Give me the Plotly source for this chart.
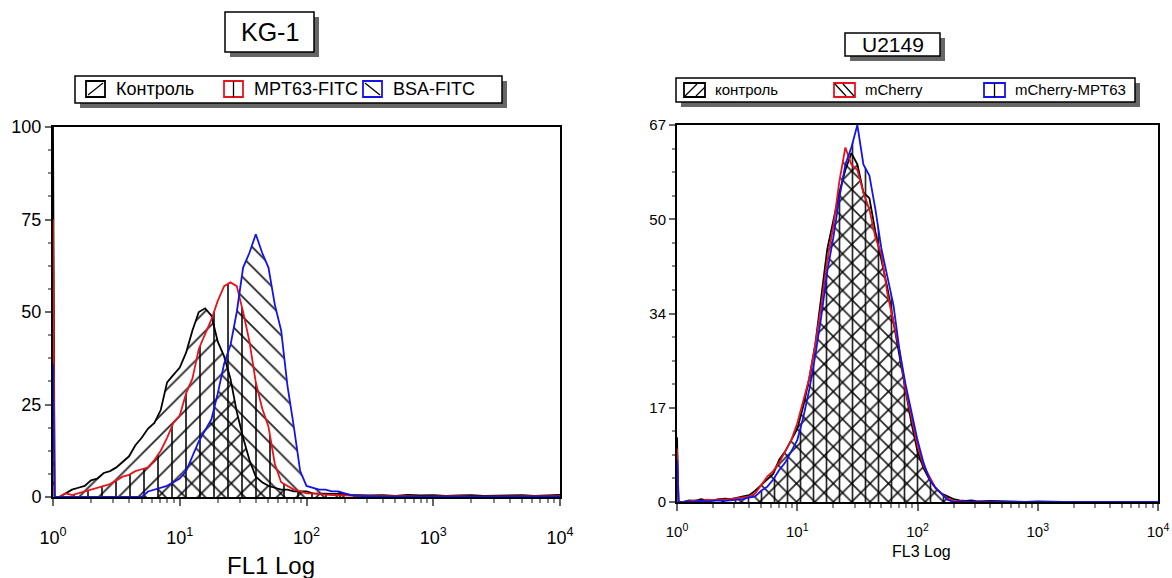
import plotly.graph_objects as go

W, H = 1172, 578

# Shared channel grid (FL intensity, log spaced)
FL_CHANNELS = [
    1.0, 1.03,
    1.122, 1.259, 1.413, 1.585, 1.778, 1.995, 2.239, 2.512, 2.818, 3.162,
    3.548, 3.981, 4.467, 5.012, 5.623, 6.310, 7.079, 7.943, 8.913, 10.0,
    11.22, 12.59, 14.13, 15.85, 17.78, 19.95, 22.39, 25.12, 28.18, 31.62,
    35.48, 39.81, 44.67, 50.12, 56.23, 63.10, 70.79, 79.43, 89.13, 100.0,
    112.2, 125.9, 141.3, 158.5, 177.8, 199.5, 223.9, 251.2, 281.8, 316.2,
    398.1, 501.2, 631.0, 794.3, 1000, 1259, 1585, 1995, 2512, 3162, 3981,
    5012, 6310, 7943, 10000,
]

# ---- KG-1 (FL1) ----
KG1_CONTROL = [
    100, 0,
    0, 1, 2, 2.5, 3, 4.5, 5, 6.5, 7, 8,
    9.5, 11, 14, 16, 18.5, 20, 23.5, 31, 33, 35,
    39, 45, 50, 51, 49, 42, 38, 32, 23, 16,
    10, 5.5, 4, 3, 2.5, 2, 2, 1.5, 1.5, 1.5,
    1, 1, 1, 1, 0.8, 0.8, 0.6, 0.5, 0.5, 0.4,
    0.5, 0.3, 0.6, 0.4, 0.5, 0.3, 0.4, 0.5, 0.3, 0.4, 0.3,
    0.5, 0.3, 0.4, 0.6,
]
KG1_MPT63 = [
    75, 0,
    0, 1, 0.5, 1, 1.5, 2, 2.5, 3, 3.5, 4.5,
    5.5, 6, 7, 7.5, 8, 10, 12.5, 16, 20, 22,
    28, 32, 40, 44, 48, 53, 57, 58, 57, 50,
    42, 31, 24, 19, 9, 4, 3, 2, 1.5, 1,
    1, 0.8, 0.6, 0.5, 0.5, 0.4, 0.3, 0.3, 0.2, 0.2,
    0.2, 0.3, 0.2, 0.1, 0.2, 0.1, 0.2, 0.1, 0.1, 0.2, 0.1,
    0.1, 0.1, 0.1, 0.2,
]
KG1_BSA = [
    36, 0,
    0, 0, 0, 0, 0, 0, 0, 0, 0, 0,
    0, 0, 0, 0, 1.5, 2, 2.5, 3, 4, 5,
    7, 11, 15, 18, 21, 28, 36, 41, 50, 62,
    66, 71, 66, 62, 52, 45, 30, 19, 7, 3,
    2.5, 2, 2, 1.5, 1.5, 1, 0.5, 0.3, 0.2, 0.2,
    0.1, 0.1, 0.1, 0.1, 0.1, 0.1, 0.1, 0.1, 0.1, 0.1, 0.1,
    0.1, 0.1, 0.1, 0.1,
]

# ---- U2149 (FL3) ----
U2149_CONTROL = [
    11.5, 0,
    0, 0.3, 0.2, 0.5, 0.3, 0.3, 0.5, 0.6, 0.5, 0.8,
    1, 1.2, 2, 3, 4, 5, 7.5, 9, 11, 13,
    17, 22, 28, 36, 45, 50, 55, 59, 62, 60,
    55, 54, 48, 43, 38, 32, 26, 20, 14, 9,
    6, 4, 2.5, 1.5, 1, 0.5, 0.3, 0.2, 0.3, 0.1,
    0.2, 0.1, 0.1, 0, 0.1, 0, 0, 0, 0, 0, 0,
    0, 0, 0, 0,
]
U2149_MCHERRY = [
    9.5, 0,
    0, 0.2, 0.3, 0.2, 0.4, 0.3, 0.5, 0.4, 0.6, 0.7,
    0.8, 1, 1.5, 3, 4.5, 5.5, 7, 9, 11, 14,
    18, 22, 28, 35, 43, 49, 57, 63, 60, 59,
    55, 52, 47, 44, 37, 32, 27, 20, 15, 10,
    6.5, 4.5, 2.5, 1.5, 0.6, 0.2, 0.1, 0.1, 0, 0.1,
    0, 0, 0, 0, 0, 0, 0, 0, 0, 0, 0,
    0, 0, 0, 0,
]
U2149_MCHERRY_MPT63 = [
    7.5, 0,
    0, 0, 0.1, 0.2, 0.1, 0.2, 0.3, 0.2, 0.3, 0.5,
    0.5, 0.8, 1, 2, 2.7, 4, 5.7, 7, 9, 11,
    15, 20, 26, 33, 41, 47, 54, 60, 63, 67,
    60, 58, 52, 45, 40, 35, 27, 21, 16, 11,
    7, 4, 2.5, 1.5, 0.4, 0, 0, 0, 0, 0,
    0, 0, 0, 0, 0, 0, 0, 0, 0, 0, 0,
    0, 0, 0, 0,
]

LOG_TICKS = [1, 10, 100, 1000, 10000]
LOG_TICKTEXT = ["10<sup>0</sup>", "10<sup>1</sup>", "10<sup>2</sup>",
                "10<sup>3</sup>", "10<sup>4</sup>"]
LOG_MINOR = [m * d for d in (1, 10, 100, 1000) for m in range(2, 10)]

KG1_YTICKS = [0, 25, 50, 75, 100]
U2149_YTICKS = [0, 16.75, 33.5, 50.25, 67]
U2149_YTICKTEXT = ["0", "17", "34", "50", "67"]

KG1_SERIES = [("Контроль", KG1_CONTROL, "black", "/"),
              ("MPT63-FITC", KG1_MPT63, "#e8141c", "|"),
              ("BSA-FITC", KG1_BSA, "#1414e8", "\\")]
U2149_SERIES = [("контроль", U2149_CONTROL, "black", "/"),
                ("mCherry", U2149_MCHERRY, "#e8141c", "\\"),
                ("mCherry-MPT63", U2149_MCHERRY_MPT63, "#1414e8", "|")]

FONT = "Arial, Liberation Sans, sans-serif"


def px(x):
    return x / W


def py(y):
    return 1 - y / H


fig = go.Figure()


def add_series(series, xa, ya, size):
    for name, vals, col, shape in series:
        fig.add_trace(go.Scatter(
            x=FL_CHANNELS, y=vals, xaxis=xa, yaxis=ya, mode="none",
            fill="tozeroy", fillcolor="rgba(0,0,0,0)",
            fillpattern=dict(shape=shape, fgcolor="rgba(0,0,0,0.85)",
                             bgcolor="rgba(0,0,0,0)", size=size,
                             solidity=0.13, fillmode="replace"),
            showlegend=False, hoverinfo="skip"))
    for name, vals, col, shape in series:
        fig.add_trace(go.Scatter(
            x=FL_CHANNELS, y=vals, xaxis=xa, yaxis=ya, mode="lines",
            line=dict(color=col, width=1.8), name=name, showlegend=False))


add_series(KG1_SERIES, "x", "y", 14)
add_series(U2149_SERIES, "x2", "y2", 13)

axis_common = dict(showline=True, linecolor="black", linewidth=2, mirror=True,
                   showgrid=False, zeroline=False, ticks="outside",
                   tickcolor="#666", tickwidth=1.5, automargin=False)

fig.update_layout(
    width=W, height=H, margin=dict(l=0, r=0, t=0, b=0, autoexpand=False),
    paper_bgcolor="white", plot_bgcolor="white",
    font=dict(family=FONT, color="black"),
    xaxis=dict(type="log", range=[0, 4], domain=[px(53), px(560)], anchor="y",
               tickvals=LOG_TICKS, ticktext=LOG_TICKTEXT, ticklen=7,
               tickfont=dict(size=18), ticklabelstandoff=16,
               minor=dict(tickvals=LOG_MINOR, ticks="outside", ticklen=4,
                          tickcolor="#888"),
               **axis_common),
    yaxis=dict(range=[0, 100], domain=[py(497), py(127)], anchor="x",
               tickvals=KG1_YTICKS, ticklen=6, tickfont=dict(size=18),
               minor=dict(dtick=6.25, ticks="outside", ticklen=3,
                          tickcolor="#888"),
               **axis_common),
    xaxis2=dict(type="log", range=[0, 4], domain=[px(677), px(1158)],
                anchor="y2", tickvals=LOG_TICKS, ticktext=LOG_TICKTEXT,
                ticklen=7, tickfont=dict(size=15), ticklabelstandoff=8,
                minor=dict(tickvals=LOG_MINOR, ticks="outside", ticklen=4,
                           tickcolor="#888"),
                **axis_common),
    yaxis2=dict(range=[0, 67], domain=[py(502), py(125)], anchor="x2",
                tickvals=U2149_YTICKS, ticktext=U2149_YTICKTEXT, ticklen=6,
                tickfont=dict(size=15),
                minor=dict(dtick=4.1875, ticks="outside", ticklen=3,
                           tickcolor="#888"),
                **axis_common),
)

shapes = []
annotations = []


def box_with_shadow(x0, y0, x1, y1, off=5):
    shapes.append(dict(type="rect", xref="paper", yref="paper",
                       x0=px(x0 + off), x1=px(x1 + off), y0=py(y1 + off),
                       y1=py(y0 + off), fillcolor="#666",
                       line=dict(width=0), layer="above"))
    shapes.append(dict(type="rect", xref="paper", yref="paper",
                       x0=px(x0), x1=px(x1), y0=py(y1), y1=py(y0),
                       fillcolor="white", line=dict(color="black", width=1.5),
                       layer="above"))


def seg(x0, y0, x1, y1, col="black", w=1.3):
    shapes.append(dict(type="line", xref="paper", yref="paper",
                       x0=px(x0), y0=py(y0), x1=px(x1), y1=py(y1),
                       line=dict(color=col, width=w), layer="above"))


def text(x, y, s, size, xanchor="left"):
    annotations.append(dict(x=px(x), y=py(y), xref="paper", yref="paper",
                            text=s, showarrow=False, xanchor=xanchor,
                            yanchor="middle",
                            font=dict(size=size, family=FONT, color="black")))


# Titles
box_with_shadow(225, 12, 314, 52)
text(269.5, 32, "KG-1", 25, "center")
box_with_shadow(845, 33, 940, 56)
text(892.5, 45, "U2149", 21, "center")

# Left legend
box_with_shadow(75, 76, 502, 103)
sym_left = [(86, KG1_SERIES[0]), (224, KG1_SERIES[1]), (363, KG1_SERIES[2])]
for x0, (name, _, col, shape) in sym_left:
    shapes.append(dict(type="rect", xref="paper", yref="paper",
                       x0=px(x0), x1=px(x0 + 19), y0=py(97), y1=py(81),
                       line=dict(color=col, width=1.8), fillcolor="white",
                       layer="above"))
    if shape == "/":
        seg(x0 + 2, 95, x0 + 17, 83)
    elif shape == "|":
        seg(x0 + 9.5, 81, x0 + 9.5, 97)
    else:
        seg(x0 + 2, 83, x0 + 17, 95)
    text(x0 + 28, 89.5, name, 18)

# Right legend
box_with_shadow(676, 78, 1135, 102)
sym_right = [(684, U2149_SERIES[0]), (834, U2149_SERIES[1]),
             (984, U2149_SERIES[2])]
for x0, (name, _, col, shape) in sym_right:
    shapes.append(dict(type="rect", xref="paper", yref="paper",
                       x0=px(x0), x1=px(x0 + 21), y0=py(97), y1=py(83),
                       line=dict(color=col, width=1.8), fillcolor="white",
                       layer="above"))
    if shape == "/":
        seg(x0 + 1, 96, x0 + 13, 84)
        seg(x0 + 12, 96, x0 + 21, 87)
    elif shape == "\\":
        seg(x0 + 1, 84, x0 + 12, 96)
        seg(x0 + 9, 84, x0 + 20, 96)
    else:
        seg(x0 + 10.5, 83, x0 + 10.5, 97)
    text(x0 + 29, 90, name, 15)

# Axis titles
text(271, 565, "FL1 Log", 24, "center")
text(921, 551, "FL3 Log", 16, "center")

fig.update_layout(shapes=shapes, annotations=annotations)
fig.write_html("out.html")
